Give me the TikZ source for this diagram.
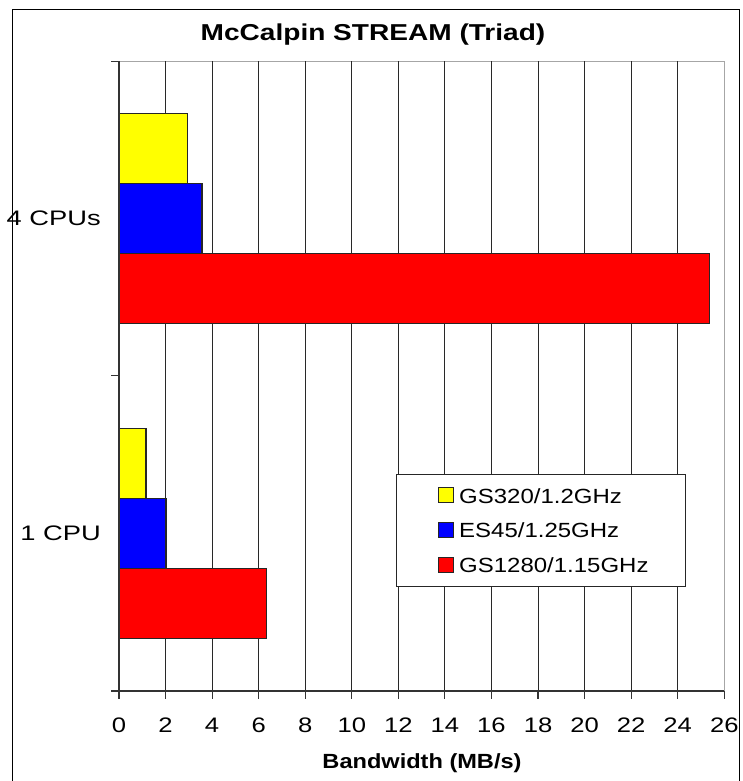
\documentclass[tikz,border=0pt]{standalone}
\usepackage{fontspec}
\setmainfont{Liberation Sans}
\definecolor{bYellow}{RGB}{255,255,0}
\definecolor{bBlue}{RGB}{0,0,255}
\definecolor{bRed}{RGB}{255,0,0}
\definecolor{gridgray}{RGB}{40,40,40}
\newcommand{\wide}[1]{\scalebox{1.22}[1]{#1}}
\tikzset{
  bar/.style={draw=black!85, line width=1.1pt},
  gridline/.style={draw=gridgray, line width=0.9pt},
  axisline/.style={draw=black!80, line width=1.1pt},
  ticklbl/.style={anchor=base, inner sep=0pt, font=\fontsize{21}{24}\selectfont},
  catlbl/.style={anchor=base east, inner sep=0pt, font=\fontsize{21}{24}\selectfont},
  leglbl/.style={anchor=base west, inner sep=0pt, font=\fontsize{20.5}{24}\selectfont},
  swatch/.style={draw=black!85, line width=1pt},
}
\begin{document}
\begin{tikzpicture}[x=1pt,y=-1pt]
\useasboundingbox (0,0) rectangle (742,781);
\fill[white] (0,0) rectangle (742,781);
% outer frame
\draw[black, line width=1.3pt] (12.3,9.7) -- (739.3,9.7) -- (739.3,790) (12.3,9.7) -- (12.3,790);
% title
\node[anchor=base, inner sep=0pt, font=\bfseries\fontsize{23}{27}\selectfont] (title) at (373,40.7) {\wide{McCalpin STREAM (Triad)}};
% plot area border
\draw[black!35, line width=1pt] (119,61.3) rectangle (724.3,691);
% grid lines
\foreach \i in {1,...,12} {
  \draw[gridline] ({119+\i*46.56},61.3) -- ({119+\i*46.56},691);
}
% bars 4 CPUs
\draw[bar, fill=bYellow] (119,113.5) rectangle (187.7,183.5);
\draw[bar, fill=bBlue] (119,183.5) rectangle (202,253.5);
\draw[bar, fill=bRed] (119,253.5) rectangle (709.3,323.5);
% bars 1 CPU
\draw[bar, fill=bYellow] (119,428.5) rectangle (146,498.5);
\draw[bar, fill=bBlue] (119,498.5) rectangle (166,568.5);
\draw[bar, fill=bRed] (119,568.5) rectangle (266.7,638.5);
% axes
\draw[axisline] (119,61.3) -- (119,691);
\draw[axisline] (111,691) -- (724.3,691);
\foreach \y in {61.3,375.5,691} { \draw[axisline] (111,\y) -- (119,\y); }
\foreach \i [evaluate=\i as \v using int(2*\i)] in {0,...,13} {
  \draw[axisline] ({119+\i*46.56},691) -- ({119+\i*46.56},699);
  \node[ticklbl] (t\i) at ({119+\i*46.56},732.7) {\wide{\v}};
}
\node[anchor=base, inner sep=0pt, font=\bfseries\fontsize{20.5}{24}\selectfont] (xlabel) at (422,768) {\scalebox{1.15}[1]{Bandwidth (MB/s)}};
% category labels
\node[catlbl] (c4) at (101,225.5) {\scalebox{1.3}[1]{4 CPUs}};
\node[catlbl] (c1) at (101,540.5) {\scalebox{1.3}[1]{1 CPU}};
% legend
\draw[black!85, fill=white, line width=1pt] (396,474.7) rectangle (685.3,586);
\draw[swatch, fill=bYellow] (438,487.3) rectangle (453.3,502.5);
\draw[swatch, fill=bBlue] (438,522) rectangle (453.3,537.3);
\draw[swatch, fill=bRed] (438,557) rectangle (453.3,572.5);
\node[leglbl] (l1) at (459,503) {\scalebox{1.17}[1]{GS320/1.2GHz}};
\node[leglbl] (l2) at (459,537.5) {\scalebox{1.17}[1]{ES45/1.25GHz}};
\node[leglbl] (l3) at (459,572.5) {\scalebox{1.17}[1]{GS1280/1.15GHz}};
\end{tikzpicture}
\end{document}
